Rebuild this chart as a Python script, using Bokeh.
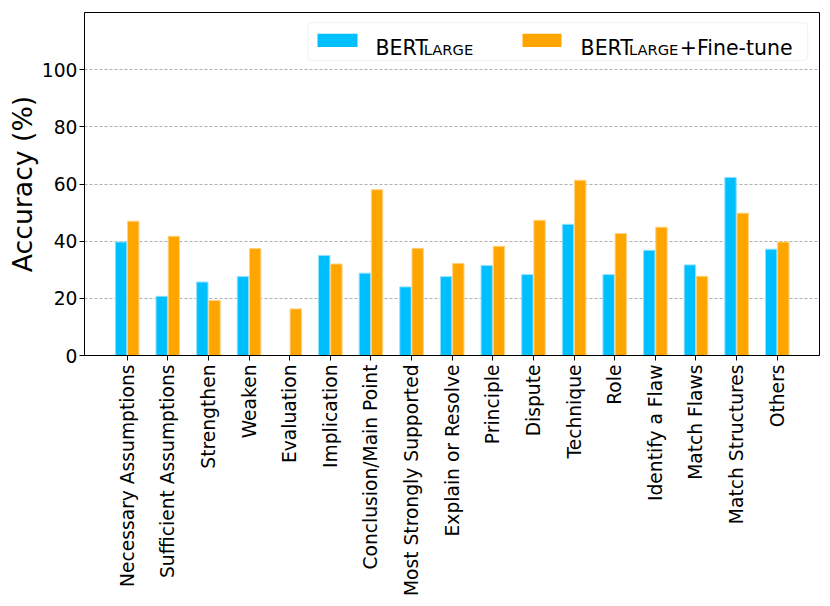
import numpy as np
from bokeh.plotting import figure
from bokeh.models import Range1d, FixedTicker, BoxAnnotation, Label
from bokeh.embed import file_html
from bokeh.resources import INLINE

categories = ["Necessary Assumptions", "Sufficient Assumptions", "Strengthen", "Weaken",
              "Evaluation", "Implication", "Conclusion/Main Point", "Most Strongly Supported",
              "Explain or Resolve", "Principle", "Dispute", "Technique", "Role",
              "Identify a Flaw", "Match Flaws", "Match Structures", "Others"]
bert_large = [39.7, 20.7, 25.7, 27.6, 0.0, 35.0, 28.8, 24.0, 27.6, 31.5, 28.3, 45.9, 28.3,
              36.8, 31.7, 62.3, 37.2]
bert_finetune = [47.0, 41.7, 19.2, 37.4, 16.3, 32.0, 58.0, 37.5, 32.2, 38.2, 47.3, 61.3, 42.7,
                 44.9, 27.7, 49.8, 39.7]
y_ticks = [0, 20, 40, 60, 80, 100]

BLUE = "#00BFFF"
ORANGE = "#FFA500"
FONT = "DejaVu Sans"

xs = np.arange(len(categories))

p = figure(width=828, height=600, output_backend="svg", toolbar_location=None,
           x_range=Range1d(-1.05, 17.04), y_range=Range1d(0, 120),
           min_border_left=84, min_border_right=9, min_border_top=12, min_border_bottom=245)

p.vbar(x=xs - 0.15, top=bert_large, width=0.28, fill_color=BLUE, line_color="#8fe0ff", line_width=1)
p.vbar(x=xs + 0.15, top=bert_finetune, width=0.28, fill_color=ORANGE, line_color="#ffd27f", line_width=1)

p.outline_line_color = "black"
p.outline_line_width = 1
p.xgrid.visible = False
p.ygrid.ticker = FixedTicker(ticks=y_ticks[1:])
p.ygrid.grid_line_color = "#b0b0b0"
p.ygrid.grid_line_dash = "3 2"
p.ygrid.grid_line_width = 1

p.xaxis.ticker = FixedTicker(ticks=list(xs))
p.xaxis.major_label_overrides = {int(i): c for i, c in zip(xs, categories)}
p.xaxis.major_label_orientation = np.pi / 2
p.yaxis.ticker = FixedTicker(ticks=y_ticks)

for ax in (p.xaxis[0], p.yaxis[0]):
    ax.axis_line_color = "black"
    ax.major_tick_line_color = "black"
    ax.major_tick_out = 5
    ax.major_tick_in = 0
    ax.minor_tick_line_color = None
    ax.major_label_text_font = FONT
    ax.major_label_text_font_size = "18.7px"
    ax.major_label_text_color = "black"
    ax.major_label_standoff = 4

p.yaxis.major_label_standoff = 2
p.yaxis.axis_label = "Accuracy (%)"
p.yaxis.axis_label_text_font = FONT
p.yaxis.axis_label_text_font_size = "26.7px"
p.yaxis.axis_label_text_font_style = "normal"
p.yaxis.axis_label_text_color = "black"
p.yaxis.axis_label_standoff = 1

# legend (drawn manually to allow subscripts)
p.add_layout(BoxAnnotation(left=4.447, right=16.75, bottom=103.25, top=116.4,
                           fill_color="white", fill_alpha=0.85, line_color="#cccccc",
                           line_width=1, border_radius=4))
p.add_layout(BoxAnnotation(left=4.685, right=5.67, bottom=107.9, top=112.6,
                           fill_color=BLUE, fill_alpha=1, line_color=None))
p.add_layout(BoxAnnotation(left=9.73, right=10.69, bottom=107.9, top=112.6,
                           fill_color=ORANGE, fill_alpha=1, line_color=None))

def lab(x, y, text, size):
    p.add_layout(Label(x=x, y=y, text=text, text_font=FONT, text_font_size=size,
                       text_color="black", text_baseline="alphabetic", text_align="left"))

lab(6.11, 107.7, "BERT", "20.5px")
lab(7.30, 107.0, "LARGE", "14.7px")
lab(11.16, 107.7, "BERT", "20.5px")
lab(12.35, 107.0, "LARGE", "14.7px")
lab(13.60, 107.7, "+Fine-tune", "20.5px")

open("out.html", "w").write(file_html(p, INLINE))
